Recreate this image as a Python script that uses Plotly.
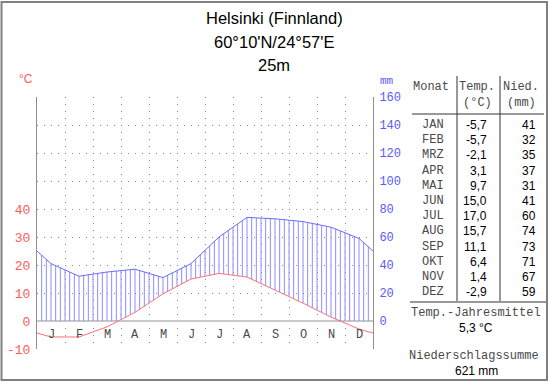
import numpy as np
import plotly.graph_objects as go

# ---- data ----
months_short = ["J", "F", "M", "A", "M", "J", "J", "A", "S", "O", "N", "D"]
months_table = ["JAN", "FEB", "MRZ", "APR", "MAI", "JUN", "JUL", "AUG", "SEP", "OKT", "NOV", "DEZ"]
temp_c = [-5.7, -5.7, -2.1, 3.1, 9.7, 15.0, 17.0, 15.7, 11.1, 6.4, 1.4, -2.9]
precip_mm = [41, 32, 35, 37, 31, 41, 60, 74, 73, 71, 67, 59]
temp_ticks = [-10, 0, 10, 20, 30, 40]
precip_ticks = [0, 20, 40, 60, 80, 100, 120, 140, 160]
title_lines = ["Helsinki (Finnland)", "60°10'N/24°57'E", "25m"]
annual_temp_text = "5,3 °C"
annual_precip_text = "621 mm"

RED = "#ff5a5a"
BLUE = "#5a5aff"
GRID = "#8a8a8a"
TXT = "#4a4a4a"
MONO = "Liberation Mono, Courier New, monospace"
SANS = "Liberation Sans, Arial, sans-serif"

# plot area in pixels
L, R, T, B = 37, 373, 97, 349
W, H = 550, 384


def px(x):
    return (x - L) / (R - L)


def py(y):
    return (B - y) / (B - T)


# curve: month centres, with edges joined across the year boundary (Dec/Jan)
xc = [0.0] + [i + 0.5 for i in range(12)] + [12.0]
t_edge = (temp_c[0] + temp_c[-1]) / 2
p_edge = (precip_mm[0] + precip_mm[-1]) / 2
tc = [t_edge] + temp_c + [t_edge]
pc = [p_edge] + precip_mm + [p_edge]

# hatch lines (humid period) derived from the two curves
hx, hy = [], []
for k in range(1, 72):
    x = k / 6
    p = float(np.interp(x, xc, pc))
    lo = max(2 * float(np.interp(x, xc, tc)), 0.0)
    if p > lo:
        hx += [x, x, None]
        hy += [lo, p, None]

fig = go.Figure()
fig.add_trace(go.Scatter(x=hx, y=hy, mode="lines", yaxis="y2",
                         line=dict(color="#8c8cff", width=1), hoverinfo="skip"))
fig.add_trace(go.Scatter(x=xc, y=pc, mode="lines", yaxis="y2",
                         line=dict(color="#6a6aff", width=1)))
fig.add_trace(go.Scatter(x=xc, y=tc, mode="lines", yaxis="y",
                         line=dict(color="#ff7070", width=1)))

yt = list(range(-10, 90, 10))
fig.update_layout(
    width=W, height=H,
    margin=dict(l=L, r=W - R, t=T, b=H - B, pad=0, autoexpand=False),
    paper_bgcolor="white", plot_bgcolor="white",
    showlegend=False,
    xaxis=dict(range=[0, 12], tickvals=list(range(0, 13)), showticklabels=False,
               ticks="", showgrid=True, gridcolor=GRID, griddash="1px,6px", gridwidth=1,
               zeroline=False, showline=False, fixedrange=True, automargin=False),
    yaxis=dict(range=[-10, 80], tickvals=yt,
               ticktext=[str(v) if v in temp_ticks else "" for v in yt],
               tickfont=dict(family=MONO, size=13, color=RED),
               ticks="", ticklabelstandoff=3,
               showgrid=True, gridcolor=GRID, griddash="1px,6px", gridwidth=1,
               zeroline=True, zerolinecolor="#c8c8c8", zerolinewidth=2,
               showline=True, linecolor="#909090", linewidth=1, fixedrange=True,
               automargin=False),
    yaxis2=dict(range=[-20, 160], overlaying="y", side="right",
                tickvals=precip_ticks, ticktext=[str(v) for v in precip_ticks],
                tickfont=dict(family=MONO, size=12, color=BLUE),
                ticks="", ticklabelstandoff=3, showgrid=False, zeroline=False,
                showline=True, linecolor="#909090", linewidth=1, fixedrange=True,
                automargin=False),
)


def note(xp, yp, text, font, xanchor="center"):
    return dict(x=px(xp), y=py(yp), xref="paper", yref="paper", text=text,
                showarrow=False, xanchor=xanchor, yanchor="middle", font=font)


ann = []
# month letters
for i, m in enumerate(months_short):
    ann.append(dict(x=i + 0.5, y=-5, xref="x", yref="y", text=m, showarrow=False,
                    xanchor="center", yanchor="middle",
                    font=dict(family=MONO, size=12, color=TXT)))
# title
for ypix, txt in zip([18, 42, 65], title_lines):
    ann.append(note(274, ypix, txt, dict(family=SANS, size=16.5, color="black")))
# unit labels
ann.append(note(26, 79, "°C", dict(family=SANS, size=12, color=RED)))
ann.append(note(387, 81, "mm", dict(family=MONO, size=11, color=BLUE)))
# table header
hdr = dict(family=MONO, size=12, color=TXT)
ann.append(note(431, 87, "Monat", hdr))
ann.append(note(477, 87, "Temp.", hdr))
ann.append(note(477, 103, "(°C)", hdr))
ann.append(note(521, 87, "Nied.", hdr))
ann.append(note(521, 103, "(mm)", hdr))
for i, (m, t, p) in enumerate(zip(months_table, temp_c, precip_mm)):
    yy = 125 + i * 15.2
    ann.append(note(433, yy, m, hdr))
    ann.append(note(489, yy, f"{t:.1f}".replace(".", ","),
                    dict(family=SANS, size=12, color="black"), xanchor="right"))
    ann.append(note(538, yy, str(p), dict(family=SANS, size=12, color="black"), xanchor="right"))
ann.append(note(476, 313, "Temp.-Jahresmittel", hdr))
ann.append(note(476, 328, annual_temp_text, dict(family=SANS, size=12, color="black")))
ann.append(note(474, 356, "Niederschlagssumme", hdr))
ann.append(note(476, 371, annual_precip_text, dict(family=SANS, size=12, color="black")))
fig.update_layout(annotations=ann)

shapes = []
lc = dict(color="#333333", width=1)
shapes.append(dict(type="line", xref="paper", yref="paper", x0=px(457), x1=px(457), y0=py(76), y1=py(301), line=lc))
shapes.append(dict(type="line", xref="paper", yref="paper", x0=px(500), x1=px(500), y0=py(76), y1=py(301), line=lc))
shapes.append(dict(type="line", xref="paper", yref="paper", x0=px(412), x1=px(544), y0=py(114), y1=py(114), line=lc))
shapes.append(dict(type="line", xref="paper", yref="paper", x0=px(410), x1=px(547), y0=py(302), y1=py(302), line=lc))
# frame
shapes.append(dict(type="rect", xref="paper", yref="paper", x0=px(1.5), x1=px(547), y0=py(2), y1=py(380),
                   line=dict(color="#808080", width=2)))
fig.update_layout(shapes=shapes)

fig.write_html("out.html", config={"displayModeBar": False},
               post_script="document.body.style.margin='0px';")
